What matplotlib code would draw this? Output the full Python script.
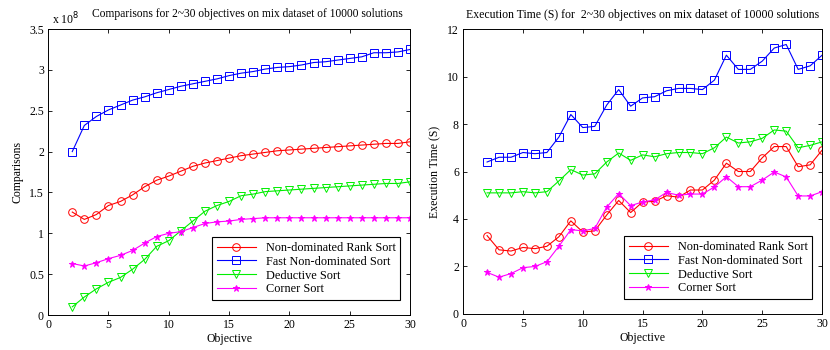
import matplotlib
matplotlib.use("Agg")
from matplotlib import pyplot as plt
from matplotlib.ticker import FormatStrFormatter

objectives = list(range(2, 31))

# comparisons, in units of 1e8
cmp_rank = [1.26, 1.17, 1.23, 1.34, 1.39, 1.47, 1.57, 1.65, 1.70, 1.76, 1.82, 1.86, 1.89, 1.92, 1.95,
            1.97, 1.99, 2.01, 2.02, 2.03, 2.04, 2.05, 2.06, 2.07, 2.08, 2.09, 2.10, 2.10, 2.12]
cmp_fast = [2.00, 2.32, 2.43, 2.51, 2.57, 2.63, 2.67, 2.72, 2.76, 2.80, 2.83, 2.86, 2.89, 2.93, 2.96,
            2.98, 3.01, 3.03, 3.04, 3.06, 3.09, 3.10, 3.12, 3.14, 3.16, 3.21, 3.21, 3.22, 3.25]
cmp_deductive = [0.10, 0.22, 0.32, 0.40, 0.46, 0.56, 0.68, 0.84, 0.91, 1.03, 1.15, 1.27, 1.34, 1.39, 1.46,
                 1.48, 1.51, 1.52, 1.53, 1.54, 1.55, 1.56, 1.57, 1.58, 1.59, 1.60, 1.61, 1.61, 1.63]
cmp_corner = [0.63, 0.60, 0.64, 0.69, 0.73, 0.79, 0.88, 0.96, 1.00, 1.02, 1.07, 1.12, 1.14, 1.15, 1.17,
              1.18, 1.19, 1.19, 1.19, 1.19, 1.19, 1.19, 1.19, 1.19, 1.19, 1.19, 1.19, 1.19, 1.19]

# execution time in seconds
time_rank = [3.30, 2.70, 2.65, 2.80, 2.75, 2.85, 3.25, 3.92, 3.45, 3.50, 4.17, 4.78, 4.27, 4.72, 4.74,
             4.98, 4.92, 5.22, 5.22, 5.64, 6.35, 6.00, 6.00, 6.58, 7.05, 7.05, 6.20, 6.28, 6.90]
time_fast = [6.40, 6.60, 6.60, 6.80, 6.75, 6.80, 7.45, 8.40, 7.85, 7.90, 8.80, 9.45, 8.75, 9.10, 9.15,
             9.40, 9.50, 9.50, 9.45, 9.85, 10.90, 10.30, 10.30, 10.65, 11.20, 11.35, 10.30, 10.45, 10.90]
time_deductive = [5.10, 5.10, 5.10, 5.15, 5.10, 5.15, 5.60, 6.08, 5.85, 5.90, 6.40, 6.78, 6.47, 6.70, 6.62,
                  6.75, 6.80, 6.80, 6.75, 7.00, 7.45, 7.20, 7.25, 7.40, 7.75, 7.70, 7.00, 7.10, 7.25]
time_corner = [1.75, 1.55, 1.70, 1.95, 2.00, 2.20, 2.85, 3.55, 3.50, 3.60, 4.50, 5.07, 4.56, 4.72, 4.80,
               5.12, 5.00, 5.05, 5.05, 5.35, 5.78, 5.36, 5.36, 5.64, 5.98, 5.77, 4.97, 4.97, 5.15]

labels = ["Non-dominated Rank Sort", "Fast Non-dominated Sort", "Deductive Sort", "Corner Sort"]
colors = ["#ff0000", "#0000ff", "#00ee00", "#ff00ff"]
markers = ["o", "s", "v", "*"]

plt.rcParams["font.family"] = ["Liberation Serif", "DejaVu Serif"]
plt.rcParams["font.size"] = 8.5

fig = plt.figure(figsize=(8.3, 3.5), dpi=100)
ax1 = fig.add_axes([0.058, 0.100, 0.436, 0.817])
ax2 = fig.add_axes([0.558, 0.103, 0.4325, 0.814])


def draw(ax, series):
    for vals, lab, col, mk in zip(series, labels, colors, markers):
        ax.plot(objectives, vals, color=col, marker=mk, markersize=5.5 if mk != "*" else 5,
                markerfacecolor="none" if mk != "*" else col, markeredgewidth=0.7,
                linewidth=0.8, label=lab)
    ax.set_xlim(0, 30)
    ax.set_xticks(range(0, 31, 5))
    ax.set_xlabel("Objective", labelpad=1)
    ax.tick_params(direction="in", top=True, right=True, length=3, width=0.6, pad=3)
    for sp in ax.spines.values():
        sp.set_linewidth(0.7)
    leg = ax.legend(loc="lower right", fancybox=False, edgecolor="black", framealpha=1,
                    fontsize=8.8, handlelength=3.2, borderpad=0.4, labelspacing=0.15,
                    bbox_to_anchor=(0.99, 0.03))
    leg.get_frame().set_linewidth(0.8)


draw(ax1, [cmp_rank, cmp_fast, cmp_deductive, cmp_corner])
ax1.set_ylim(0, 3.5)
ax1.set_yticks([0, 0.5, 1, 1.5, 2, 2.5, 3, 3.5])
ax1.yaxis.set_major_formatter(FormatStrFormatter("%g"))
ax1.set_ylabel("Comparisons", labelpad=4)
ax1.text(0.55, 1.03, "Comparisons for 2~30 objectives on mix dataset of 10000 solutions",
         transform=ax1.transAxes, fontsize=8.3, ha="center", va="bottom")
ax1.text(0.01, 1.005, "x 10$^8$", transform=ax1.transAxes, fontsize=8.5, va="bottom", ha="left")

draw(ax2, [time_rank, time_fast, time_deductive, time_corner])
ax2.set_ylim(0, 12)
ax2.set_yticks(range(0, 13, 2))
ax2.set_ylabel("Execution Time (S)", labelpad=4)
ax2.set_title("Execution Time (S) for  2~30 objectives on mix dataset of 10000 solutions", fontsize=8.5, pad=8)

fig.savefig("out.png", dpi=100)
